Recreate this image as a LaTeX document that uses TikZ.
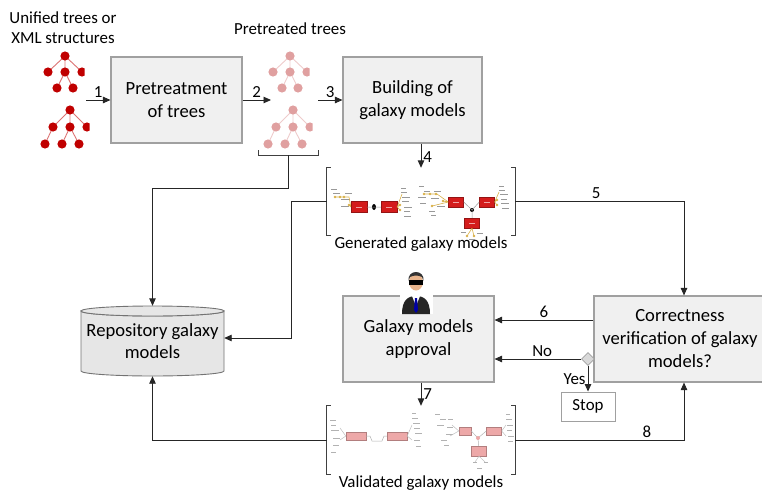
\documentclass[tikz,border=0pt]{standalone}
\usepackage{fontspec}
\setmainfont{Carlito}
\usetikzlibrary{shapes.geometric,arrows.meta,positioning}

\definecolor{boxfill}{HTML}{F0F0F0}
\definecolor{boxline}{HTML}{A0A0A0}
\definecolor{cylfill}{HTML}{E6E6E6}
\definecolor{treered}{HTML}{C00000}
\definecolor{treepink}{HTML}{E0A0A0}
\definecolor{modelred}{HTML}{D41C1C}
\definecolor{modelpink}{HTML}{EDA8A8}
\definecolor{labelgold}{HTML}{D8B048}
\definecolor{skin}{HTML}{E8B48C}

\tikzset{
  pics/treeA/.style={code={
      \clip (-30,-6) rectangle (19.5,40);
      \draw[#1!55, line width=0.9pt] (0,0) -- (-17,16) (0,0) -- (0,16) (0,0) -- (17,16)
        (0,16) -- (-8,32) (0,16) -- (8,32);
      \foreach \p in {(0,0),(-17,16),(0,16),(17,16),(-8,32),(8,32)}
        \fill[#1] \p circle[radius=4.6];
  }},
  pics/treeB/.style={code={
      \clip (-32,-6) rectangle (19.5,40);
      \draw[#1!55, line width=0.9pt] (0,0) -- (-17,17) (0,0) -- (0,17) (0,0) -- (17,17)
        (-17,17) -- (-25,34) (0,17) -- (-8,34) (0,17) -- (9,34);
      \foreach \p in {(0,0),(-17,17),(0,17),(17,17),(-25,34),(-8,34),(9,34)}
        \fill[#1] \p circle[radius=4.6];
  }},
}

\begin{document}
\begin{tikzpicture}[x=1pt, y=-1pt,
  stepbox/.style={draw=boxline, fill=boxfill, line width=1.1pt, align=center,
    font=\fontsize{18.6}{23}\selectfont, inner sep=0pt},
  lbl/.style={font=\fontsize{16.9}{20}\selectfont, inner sep=2pt},
  flow/.style={draw=black!85, line width=0.9pt, -{Triangle[length=7.5pt, width=6.5pt]}},
  brk/.style={draw=black!75, line width=1pt},
  modelgroup/.style={minimum width=188pt, minimum height=67pt, inner sep=0pt},
  redbox/.style={draw=modelred!70!black, fill=modelred, inner sep=0pt},
  pinkbox/.style={draw=modelpink!75!black, fill=modelpink, inner sep=0pt},
]
\useasboundingbox (0,0) rectangle (762,495);

% trees
\node[lbl, align=center] (unilbl) at (63,28) {Unified trees or\\XML structures};
\pic at (65,56) {treeA=treered};
\pic at (70,110) {treeB=treered};
\node[lbl] (prelbl) at (290,29) {Pretreated trees};
\pic at (290,56) {treeA=treepink};
\pic at (293,110) {treeB=treepink};
\draw[brk] (258,150) -- (258,155) -- (318,155) -- (318,150);
\coordinate (uniout) at (86,100);
\coordinate (prein) at (271,100);
\coordinate (preout) at (318,100);
\coordinate (prestem) at (288,155);

% repository
\draw[draw=black!55, fill=cylfill, line width=0.9pt] (81,311) -- (81,371)
  arc[start angle=180, end angle=0, x radius=71.5, y radius=5] -- (224,311)
  arc[start angle=0, end angle=180, x radius=71.5, y radius=5] -- cycle;
\draw[draw=black!55, fill=cylfill, line width=0.9pt] (152.5,311) ellipse[x radius=71.5, y radius=5];
\node[align=center, font=\fontsize{18.6}{22}\selectfont, minimum width=143pt, minimum height=70pt,
  inner sep=0pt] (repo) at (152.5,341) {Repository galaxy\\models};

% steps
\node[stepbox, minimum width=131pt, minimum height=86pt] (pretreat) at (176.5,100) {Pretreatment\\of trees};
\node[stepbox, minimum width=139pt, minimum height=86pt] (build) at (412.5,100) {Building of\\galaxy models};
\node[stepbox, minimum width=151pt, minimum height=86pt] (appr) at (418.5,339) {Galaxy models\\approval};
\node[stepbox, minimum width=172pt, minimum height=86pt] (corr) at (680,339) {Correctness\\verification of galaxy\\models?};
\node[diamond, draw=boxline, fill=black!15, line width=0.8pt, minimum width=13pt, minimum height=13pt,
  inner sep=0pt] (dec) at (588,359) {};
\node[lbl, draw=boxline, fill=white, line width=0.9pt, minimum width=54pt, minimum height=29pt] (stop) at (588,406.5) {Stop};

% galaxy models
\node[modelgroup] (gen) at (421,201.5) {};
\node[lbl, below=-1pt of gen] (genlbl) {Generated galaxy models};
\node[modelgroup, minimum height=68pt] (val) at (421,440) {};
\node[lbl, below=-1pt of val] (vallbl) {Validated galaxy models};
\foreach \g in {gen, val} {
  \draw[brk] ([xshift=4pt]\g.north west) -- (\g.north west) -- (\g.south west) -- ([xshift=4pt]\g.south west);
  \draw[brk] ([xshift=-4pt]\g.north east) -- (\g.north east) -- (\g.south east) -- ([xshift=-4pt]\g.south east);
}

% generated thumbnail
\foreach \x/\y/\l in {331/189/6, 333/193/7, 345/193/7, 341/199/9, 341/206/8,
    401/188/5, 401/192/6, 402/197/8, 402/201/7, 404/207/8, 404/211/6, 404/216/7,
    419/186/5, 424/191/6, 434/191/7, 418/197/8, 431/198/8, 420/203/6, 437/206/8, 429/211/6, 431/215/5,
    499/186/5, 499/190/6, 500/194/8, 501/199/6, 501/203/8, 502/208/7,
    461/232/5, 477/233/6, 469/239/6}
  \draw[black!40, line width=1pt] (\x,\y) -- ++(\l,0);
\node[redbox, minimum width=16pt, minimum height=11pt] (g1) at (359,207) {};
\node[redbox, minimum width=16pt, minimum height=11pt] (g2) at (389,207) {};
\node[redbox, minimum width=15pt, minimum height=10pt] (g3) at (456,202) {};
\node[redbox, minimum width=15pt, minimum height=10pt] (g4) at (487,202) {};
\node[redbox, minimum width=15pt, minimum height=10pt] (g5) at (472,223) {};
\fill[black] (374,207) ellipse[x radius=2, y radius=3];
\fill[black] (472,210) circle[radius=2];
\draw[black!40, line width=0.5pt] (g1) -- (g2) (g3.east) -- (472,210) -- (g4.west) (472,210) -- (g5);
\draw[labelgold, line width=0.6pt] (335,197) -- (349,197) -- (g1.west) (349,205) -- (g1.west)
  (g2.east) -- (400,205) (g2.east) -- (400,210) (g2.east) -- (402,194)
  (424,194) -- (437,194) -- (g3.west) (443,201) -- (g3.west) (432,206) -- (g3.west)
  (g4.east) -- (497,200) (g4.east) -- (497,205) (g4.east) -- (499,192)
  (g5.south) -- (467,236) (g5.south) -- (474,236);
\foreach \x/\y in {335/197, 340/197, 344/197, 349/205, 400/205, 400/210,
    424/194, 430/194, 436/194, 443/201, 432/206, 497/200, 497/205, 467/236, 474/236}
  \fill[labelgold] (\x,\y) circle[radius=1.3];
\foreach \b in {g1, g2, g3, g4, g5}
  \draw[modelred!40!white, line width=0.6pt] ([xshift=-3pt]\b.center) -- ([xshift=3pt]\b.center);

% validated thumbnail
\foreach \x/\y/\l in {330/420/6, 331/425/5, 331/430/8, 333/438/7, 333/445/6, 331/452/5,
    412/413/4, 412/418/6, 413/423/7, 414/428/6, 415/433/7, 414/440/6, 416/446/5,
    435/414/5, 440/419/6, 448/419/5, 437/425/7, 447/427/6, 446/434/7, 441/440/6, 444/445/5,
    506/414/4, 506/419/6, 507/425/6, 507/430/5, 508/436/6, 508/441/5,
    473/462/4, 484/462/4, 477/468/5}
  \draw[black!30, line width=1pt] (\x,\y) -- ++(\l,0);
\node[pinkbox, minimum width=20pt, minimum height=8pt] (v1) at (356,436) {};
\node[pinkbox, minimum width=20pt, minimum height=8pt] (v2) at (397,436) {};
\node[pinkbox, minimum width=12pt, minimum height=8pt] (v3) at (465,431) {};
\node[pinkbox, minimum width=15pt, minimum height=8pt] (v4) at (494,431) {};
\node[pinkbox, minimum width=15pt, minimum height=10pt] (v5) at (479,451) {};
\draw[black!30, line width=0.5pt] (v1.east) -- (370,436) -- (372,441) -- (382,441) -- (384,436) -- (v2.west)
  (v3.east) -- (478,438) -- (v4.west) (478,438) -- (v5);
\fill[modelpink] (478,438) circle[radius=2];
\draw[black!25, line width=0.5pt] (340,428) -- (v1.west) (340,440) -- (v1.west)
  (v2.east) -- (412,425) (v2.east) -- (412,440) (452,425) -- (v3.west) (450,436) -- (v3.west)
  (v4.east) -- (506,425) (v4.east) -- (506,436) (v5.south) -- (475,462) (v5.south) -- (485,462);

% approver
\fill[white] (400,270) rectangle (433,314);
\fill[black!85] (402,314) .. controls (402,300) and (408,296) .. (416,296)
  .. controls (424,296) and (430,300) .. (430,314) -- cycle;
\fill[white] (412,296) -- (420,296) -- (416,306) -- cycle;
\fill[blue!65!black] (415,298) -- (417,298) -- (418,310) -- (416,313) -- (414,310) -- cycle;
\fill[skin] (416,282) ellipse[x radius=7, y radius=8.5];
\fill[black!80] (408.5,281) .. controls (407,269) and (425,269) .. (423.5,281)
  -- (422,277) .. controls (418,275) and (414,275) .. (410,277) -- cycle;
\fill[black] (409,280) rectangle (423,284.5);

% connectors
\draw[flow] (uniout) -- (pretreat.west) node[lbl, midway, above] {1};
\draw[flow] (pretreat.east) -- (prein) node[lbl, midway, above] {2};
\draw[flow] (preout) -- (build.west) node[lbl, midway, above] {3};
\draw[flow] (gen.north |- build.south) -- (gen.north) node[lbl, pos=.55, right] {4};
\draw[flow] (gen.east) -| ([xshift=4pt]corr.north) node[lbl, pos=.24, above] {5};
\draw[flow] ([yshift=19pt]corr.west) -- ([yshift=19pt]appr.east) node[lbl, midway, above] {6};
\draw[flow] (dec.west) -- (dec.west -| appr.east) node[lbl, pos=.45, above] {No};
\draw[flow] (dec.south) -- (stop.north) node[lbl, midway, left] {Yes};
\draw[flow] (val.north |- appr.south) -- (val.north) node[lbl, midway, right] {7};
\draw[flow] (val.east) -| ([xshift=4pt]corr.south) node[lbl, pos=.39, above] {8};
\draw[flow] (prestem) -- ++(0,33) -| (repo.north);
\draw[flow] (gen.west) -- ++(-35,0) |- ([yshift=3pt]repo.east);
\draw[flow] (val.west) -| (repo.south);
\end{tikzpicture}
\end{document}
